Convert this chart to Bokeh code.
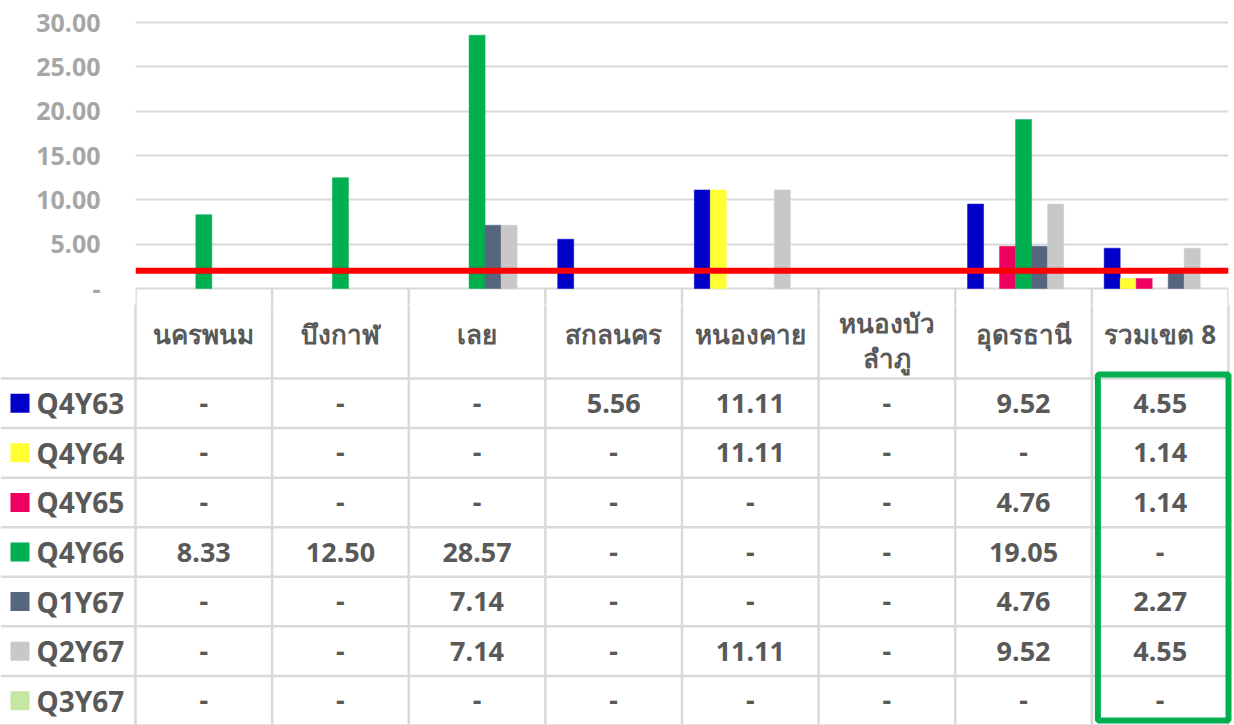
import numpy as np
from bokeh.plotting import figure
from bokeh.layouts import column
from bokeh.models import Range1d, FactorRange, FixedTicker, Span, ColumnDataSource, NumeralTickFormatter
from bokeh.transform import dodge
from bokeh.core.properties import value
from bokeh.embed import file_html
from bokeh.resources import INLINE

# ---------------- data ----------------
categories = ["นครพนม", "บึงกาฬ", "เลย", "สกลนคร", "หนองคาย", "หนองบัวลำภู", "อุดรธานี", "รวมเขต 8"]
header_labels = ["นครพนม", "บึงกาฬ", "เลย", "สกลนคร", "หนองคาย", "หนองบัว\nลำภู", "อุดรธานี", "รวมเขต 8"]
series_names = ["Q4Y63", "Q4Y64", "Q4Y65", "Q4Y66", "Q1Y67", "Q2Y67", "Q3Y67"]
series_colors = ["#0000c8", "#ffff33", "#ee0060", "#00b050", "#56667e", "#c8c8c8", "#c6e6a4"]

q4y63 = [None, None, None, 5.56, 11.11, None, 9.52, 4.55]
q4y64 = [None, None, None, None, 11.11, None, None, 1.14]
q4y65 = [None, None, None, None, None, None, 4.76, 1.14]
q4y66 = [8.33, 12.50, 28.57, None, None, None, 19.05, None]
q1y67 = [None, None, 7.14, None, None, None, 4.76, 2.27]
q2y67 = [None, None, 7.14, None, 11.11, None, 9.52, 4.55]
q3y67 = [None, None, None, None, None, None, None, None]
series_values = [q4y63, q4y64, q4y65, q4y66, q1y67, q2y67, q3y67]

y_ticks = [0, 5, 10, 15, 20, 25, 30]
target = 2.0
highlight_col = "รวมเขต 8"

# ---------------- layout constants ----------------
FONT = "Noto Sans"
W = 1234
BELOW0 = 16          # px of the chart frame below the zero line (start of table header)
TOP_H = 288 + BELOW0
TAB_H = 725 - TOP_H
LEFT = 135
RIGHT = 6
ncol = len(categories)
colw = (W - LEFT - RIGHT) / ncol
bw = 16 / colw
TXT = "#595959"
GRID = "#d9d9d9"
upp = 30 / 266.0  # value units per pixel in the chart

# ---------------- chart ----------------
p = figure(width=W, height=TOP_H, x_range=FactorRange(*categories, range_padding=0),
           y_range=Range1d(-BELOW0 * upp, 30 + 22 * upp), output_backend="svg", toolbar_location=None,
           min_border_left=LEFT, min_border_right=RIGHT, min_border_top=0, min_border_bottom=0)
p.frame_align = False
p.xaxis.visible = False
p.xgrid.grid_line_color = None
p.ygrid.grid_line_color = GRID
p.ygrid.grid_line_width = 2
p.outline_line_color = None
p.background_fill_color = "#ffffff"
p.border_fill_color = "#ffffff"

ax = p.yaxis[0]
ax.ticker = FixedTicker(ticks=y_ticks)
ax.formatter = NumeralTickFormatter(format="0.00")
ax.major_label_overrides = {0: "-"}
ax.axis_line_color = None
ax.major_tick_line_color = None
ax.minor_tick_line_color = None
ax.major_tick_in = 0
ax.major_tick_out = 0
ax.major_label_standoff = 35
ax.major_label_text_font = FONT
ax.major_label_text_font_style = "bold"
ax.major_label_text_font_size = "25px"
ax.major_label_text_color = "#a6a6a6"

for i, (name, vals, col) in enumerate(zip(series_names, series_values, series_colors)):
    tops = [np.nan if v is None else v for v in vals]
    src = ColumnDataSource(dict(x=categories, top=tops))
    p.vbar(x=dodge("x", (i - 3) * bw, range=p.x_range), top="top", bottom=0, width=bw,
           source=src, fill_color=col, line_color=col, line_width=0.5)

# top part of the table's column separators (inside the chart's bottom strip)
sep_src = ColumnDataSource(dict(x=categories, y0=[0] * ncol, y1=[-BELOW0 * upp] * ncol))
p.segment(x0=dodge("x", -0.5, range=p.x_range), x1=dodge("x", -0.5, range=p.x_range),
          y0="y0", y1="y1", source=sep_src, line_color=GRID, line_width=2.5)
last_src = ColumnDataSource(dict(x=[categories[-1]], y0=[0], y1=[-BELOW0 * upp]))
p.segment(x0=dodge("x", 0.5, range=p.x_range), x1=dodge("x", 0.5, range=p.x_range),
          y0="y0", y1="y1", source=last_src, line_color=GRID, line_width=2.5)

p.add_layout(Span(location=target, dimension="width", line_color="#ff0000", line_width=6))

# ---------------- data table ----------------
hdr_px = 90 - BELOW0
rowh = (TAB_H - hdr_px) / 7.0
hdr = hdr_px / rowh
nrow = len(series_names)
t = figure(width=W, height=TAB_H, x_range=Range1d(-LEFT / colw, ncol + RIGHT / colw),
           y_range=Range1d(nrow, -hdr), output_backend="svg", toolbar_location=None,
           min_border=0)
t.frame_align = False
t.axis.visible = False
t.grid.grid_line_color = None
t.outline_line_color = None
t.background_fill_color = "#ffffff"
t.border_fill_color = "#ffffff"

# grid of the table
vx = list(range(ncol + 1))
t.segment(x0=vx, x1=vx, y0=[-hdr - 0.05] * len(vx), y1=[nrow] * len(vx), line_color=GRID, line_width=2.5)
hy = list(range(nrow + 1))
t.segment(x0=[-LEFT / colw] * len(hy), x1=[ncol] * len(hy), y0=hy, y1=hy, line_color=GRID, line_width=2.5)

# header (header cell centre is 45px above the first data row)
single = [h for h in header_labels if "\n" not in h]
single_x = [j + 0.5 for j, h in enumerate(header_labels) if "\n" not in h]
multi = [h for h in header_labels if "\n" in h]
multi_x = [j + 0.5 for j, h in enumerate(header_labels) if "\n" in h]
t.text(x=single_x, y=[-45 / rowh] * len(single), text=single,
       text_align="center", text_baseline="middle", text_font=value(FONT),
       text_font_style="bold", text_font_size="26px", text_color=TXT)
t.text(x=multi_x, y=[-38 / rowh] * len(multi), text=multi,
       text_align="center", text_baseline="middle", text_font=value(FONT),
       text_font_style="bold", text_font_size="26px", text_color=TXT, text_line_height=0.95)

# values
xs, ys, labels = [], [], []
for i, vals in enumerate(series_values):
    for j, v in enumerate(vals):
        xs.append(j + 0.5)
        ys.append(i + 0.5)
        labels.append("-" if v is None else f"{v:.2f}")
t.text(x=xs, y=ys, text=labels, text_align="center", text_baseline="middle",
       text_font=value(FONT), text_font_style="bold", text_font_size="27px", text_color=TXT)

# legend keys
key_x = (19.5 - LEFT) / colw
lab_x = (36 - LEFT) / colw
t.scatter(x=[key_x] * nrow, y=[i + 0.5 for i in range(nrow)], marker="square", size=19,
          fill_color=series_colors, line_color=None)
t.text(x=[lab_x] * nrow, y=[i + 0.5 for i in range(nrow)], text=series_names,
       text_align="left", text_baseline="middle", text_font=value(FONT),
       text_font_style="bold", text_font_size="28px", text_color=TXT)

# highlight box on total column
hc = categories.index(highlight_col)
t.quad(left=[hc + 6 / colw], right=[hc + 1], top=[-4 / rowh], bottom=[nrow - 5 / rowh],
       fill_alpha=0, line_color="#00b050", line_width=6)

layout = column(p, t, spacing=0)
open("out.html", "w").write(file_html(layout, INLINE))
